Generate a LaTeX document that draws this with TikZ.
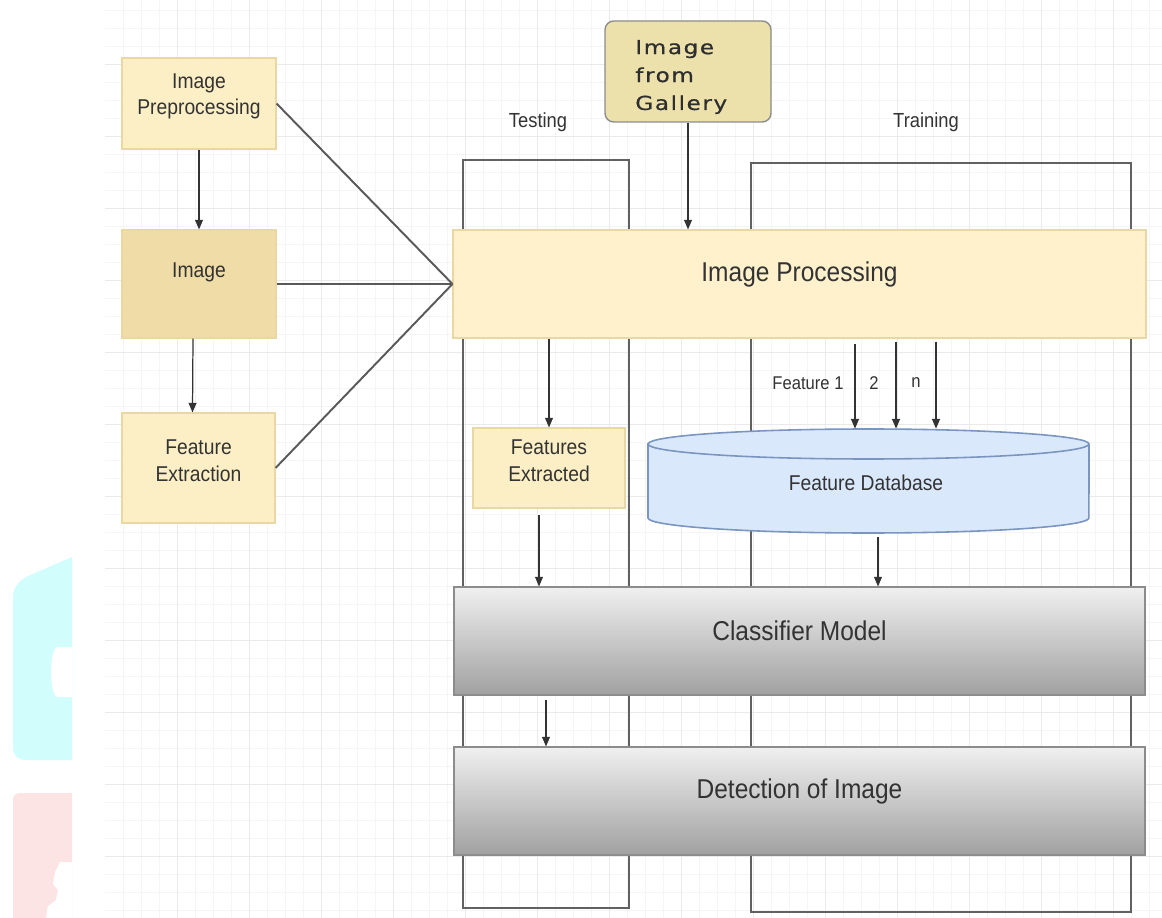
\documentclass[tikz,border=0pt]{standalone}
\usepackage{fontspec}
\setmainfont{Liberation Sans}[FakeStretch=0.9]
\newfontfamily\galfont{DejaVu Sans}[FakeStretch=1.2, LetterSpace=8, FakeBold=0.6]
\usetikzlibrary{arrows.meta,fit,calc}
\definecolor{cream}{HTML}{FCEFC6}
\definecolor{imgtan}{HTML}{EFDCA6}
\definecolor{ipfill}{HTML}{FEF1CC}
\definecolor{galfill}{HTML}{ECE1AB}
\definecolor{boxedge}{HTML}{EAD8A4}
\definecolor{dbfill}{HTML}{DAE8FC}
\definecolor{dbline}{HTML}{7A95BF}
\definecolor{txt}{HTML}{333333}
\definecolor{wmcyan}{HTML}{D2FDFD}
\definecolor{wmpink}{HTML}{FDE4E4}
\definecolor{gridminor}{HTML}{F5F5F5}
\definecolor{gridmajor}{HTML}{EAEAEA}
\tikzset{
  cbox/.style={draw=boxedge, line width=0.6pt, fill=cream, inner sep=0pt, align=center, text=txt,
    font=\fontsize{12.2}{15}\selectfont},
  graybox/.style={draw=black!45, line width=0.6pt, top color=black!6, bottom color=black!37,
    inner sep=0pt, text=txt, font=\fontsize{15.5}{17}\selectfont},
  lanebox/.style={draw=black!62, line width=1.1pt, inner sep=0pt},
  arr/.style={-{Triangle[length=5.5pt,width=4.5pt]}, draw=black!80, line width=0.7pt},
  link/.style={draw=black!65, line width=1.1pt},
  lbl/.style={text=txt, inner sep=0pt, font=\fontsize{11.6}{13}\selectfont},
  flbl/.style={text=txt, inner sep=0pt, font=\fontsize{10.5}{12}\selectfont},
}
\begin{document}
\begin{tikzpicture}[x=0.02cm, y=-0.02cm]
\path[use as bounding box, fill=white] (0,0) rectangle (1162,918);
% faint background grid
\foreach \gx in {123,141,...,1162} \draw[gridminor, line width=0.4pt] (\gx,0) -- (\gx,918);
\foreach \gy in {10,28,...,918} \draw[gridminor, line width=0.4pt] (105,\gy) -- (1162,\gy);
\foreach \gx in {177,249,...,1162} \draw[gridmajor, line width=0.5pt] (\gx,0) -- (\gx,918);
\foreach \gy in {64,136,...,918} \draw[gridmajor, line width=0.5pt] (105,\gy) -- (1162,\gy);
% watermark fragments at the left edge
\fill[wmcyan] (13,597) .. controls (13,588) and (18,582) .. (26,577) -- (72,557) -- (72,760)
  -- (26,760) .. controls (17,760) and (13,755) .. (13,747) -- cycle;
\fill[white] (72,647) -- (57,647) .. controls (49,652) and (49,692) .. (57,697) -- (72,697) -- cycle;
\fill[wmpink] (13,800) .. controls (13,796) and (15,793) .. (20,793) -- (72,793) -- (72,918) -- (13,918) -- cycle;
\fill[white] (72,862) -- (60,862) -- (55,872) -- (53,884) -- (58,890) -- (56,900) -- (48,906) -- (46,918) -- (72,918) -- cycle;

% swimlanes
\node[lanebox, fit={(463,160) (629,908)}] (test) {};
\node[lanebox, fit={(751,163) (1131,912)}] (train) {};
\node[lbl] (testlbl) at (538,122) {Testing};
\node[lbl] (trainlbl) at (926,122) {Training};

% left column
\node[cbox, fit={(122,58) (276,149)}] (pre) {Image\\Preprocessing};
\node[cbox, fill=imgtan, fit={(122,230) (276,338)}] (img) {};
\node[text=txt, inner sep=0pt, font=\fontsize{12.2}{15}\selectfont] (imgtxt) at (199,272) {Image};
\node[cbox, fit={(122,413) (275,523)}] (fe) {Feature\\Extraction};
\draw[arr] (pre.south) -- (img.north);
\draw[arr] ($(img.south)+(-6,0)$) -- ($(fe.north)+(-6,0)$);

% image from gallery
\node[draw=black!45, line width=0.8pt, fill=galfill, rounded corners=5pt, inner sep=0pt,
  fit={(605,21) (771,122)}] (gal) {};
\node[anchor=west, align=left, inner sep=0pt, text=black!82,
  font=\galfont\fontsize{11}{15.9}\selectfont] (galtxt) at (635,77) {Image\\from\\Gallery};

% image processing
\node[cbox, fill=ipfill, fit={(453,230) (1146,338)}, font=\fontsize{15.5}{17}\selectfont] (ip) {Image Processing};
\draw[arr] (gal.south) -- (gal.south |- ip.north);
\draw[link] (pre.east) -- (ip.west);
\draw[link] (img.east) -- (ip.west);
\draw[link] (fe.east) -- (ip.west);

% testing branch
\node[cbox, fit={(473,428) (625,508)}] (fx) {Features\\Extracted};
\draw[arr] (fx.north |- ip.south) -- (fx.north);

% training branch: feature database
\node[inner sep=0pt, fit={(648,429) (1089,533)}] (db) {};
\path[fill=dbfill, draw=dbline, line width=0.9pt] (648,444) -- (648,518)
  arc[start angle=180, end angle=360, x radius=4.41cm, y radius=0.3cm] -- (1089,444)
  arc[start angle=0, end angle=180, x radius=4.41cm, y radius=0.3cm] -- cycle;
\draw[dbline, line width=0.9pt] (648,444) arc[start angle=180, end angle=360, x radius=4.41cm, y radius=0.3cm];
\node[text=txt, inner sep=0pt, font=\fontsize{12.2}{14}\selectfont] (dbtxt) at (866,483) {Feature Database};
\coordinate (f1) at (855,344);
\coordinate (f2) at (896,342);
\coordinate (fn) at (936,342);
\draw[arr] (f1) -- (f1 |- db.north);
\draw[arr] (f2) -- (f2 |- db.north);
\draw[arr] (fn) -- (fn |- db.north);
\node[flbl] (lf1) at (808,383) {Feature 1};
\node[flbl] (lf2) at (874,383) {2};
\node[flbl] (lfn) at (916,383) {n};

% classifier and detection
\node[graybox, fit={(454,587) (1145,695)}] (cls) {Classifier Model};
\node[graybox, fit={(454,747) (1145,855)}] (det) {Detection of Image};
\coordinate (fxo) at (539,515);
\coordinate (dbo) at (878,537);
\coordinate (clo) at (546,700);
\draw[arr] (fxo) -- (fxo |- cls.north);
\draw[arr] (dbo) -- (dbo |- cls.north);
\draw[arr] (clo) -- (clo |- det.north);
\end{tikzpicture}
\end{document}
